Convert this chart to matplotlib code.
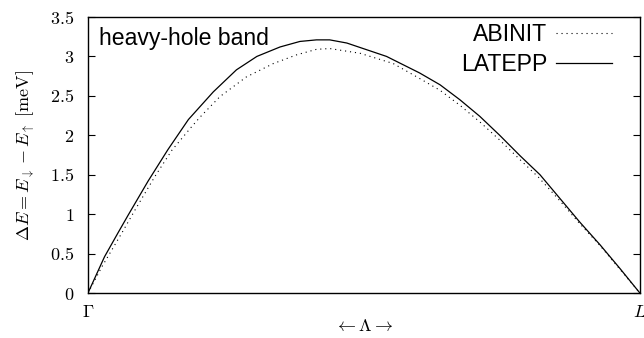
import matplotlib
matplotlib.use("Agg")
from matplotlib import pyplot as plt

# position along Gamma -> L (fraction of the path) and spin splitting in meV
k_abinit = [0.0, 0.025, 0.061, 0.085, 0.121, 0.152, 0.188, 0.203, 0.239,
            0.287, 0.336, 0.378, 0.414, 0.438, 0.493, 0.553, 0.601, 0.638,
            0.674, 0.71, 0.746, 0.783, 0.816, 0.855, 0.891, 0.928, 0.964, 1.0]
de_abinit = [0.0, 0.33, 0.757, 1.05, 1.475, 1.81, 2.11, 2.23, 2.49,
             2.74, 2.91, 3.02, 3.09, 3.10, 3.04, 2.91, 2.72, 2.57,
             2.38, 2.17, 1.94, 1.69, 1.47, 1.17, 0.88, 0.60, 0.30, 0.0]

k_latepp = [0.0, 0.03, 0.055, 0.073, 0.109, 0.145, 0.182, 0.227, 0.269,
            0.306, 0.348, 0.384, 0.414, 0.438, 0.469, 0.541, 0.601, 0.638,
            0.674, 0.71, 0.746, 0.783, 0.819, 0.855, 0.891, 0.928, 0.964, 1.0]
de_latepp = [0.0, 0.46, 0.77, 0.99, 1.42, 1.82, 2.20, 2.55, 2.83,
             3.0, 3.12, 3.19, 3.21, 3.21, 3.17, 3.0, 2.79, 2.64,
             2.45, 2.24, 2.0, 1.74, 1.50, 1.20, 0.90, 0.61, 0.31, 0.0]

yticks = [0, 0.5, 1, 1.5, 2, 2.5, 3, 3.5]
ytick_labels = ["0", "0.5", "1", "1.5", "2", "2.5", "3", "3.5"]
xticks = [0.0, 1.0]
xtick_labels = [r"$\Gamma$", r"$L$"]

plt.rcParams["mathtext.fontset"] = "cm"
plt.rcParams["font.family"] = ["Liberation Sans", "DejaVu Sans"]

fig = plt.figure(figsize=(6.44, 3.38), dpi=100)
ax = fig.add_axes([0.1366, 0.1331, 0.857, 0.8166])

ax.plot(k_abinit, de_abinit, color="black", lw=0.8, ls=(0, (1, 3.5)), label="ABINIT")
ax.plot(k_latepp, de_latepp, color="black", lw=0.9, ls="-", label="LATEPP")

ax.set_xlim(0, 1)
ax.set_ylim(0, 3.5)
ax.set_yticks(yticks, labels=["$" + t + "$" for t in ytick_labels])
ax.set_xticks(xticks, labels=xtick_labels)
ax.tick_params(axis="y", direction="in", length=5, width=0.8, right=True,
               labelsize=13, pad=10)
ax.tick_params(axis="x", direction="in", length=0, labelsize=13, pad=8)
for s in ax.spines.values():
    s.set_linewidth(1.0)

ax.set_ylabel(r"$\Delta E = E_\downarrow - E_\uparrow\ [\mathrm{meV}]$",
              fontsize=13, labelpad=10)
ax.set_xlabel(r"$\leftarrow \Lambda \rightarrow$", fontsize=13, labelpad=-2)

ax.text(0.02, 0.965, "heavy-hole band", transform=ax.transAxes,
        fontsize=16.6, ha="left", va="top")

ax.legend(loc="upper right", frameon=False, markerfirst=False, fontsize=16.6,
          handlelength=2.4, handletextpad=0.4, labelspacing=0.32,
          borderaxespad=0.1, bbox_to_anchor=(0.97, 1.02))

fig.savefig("out.png", dpi=100)
